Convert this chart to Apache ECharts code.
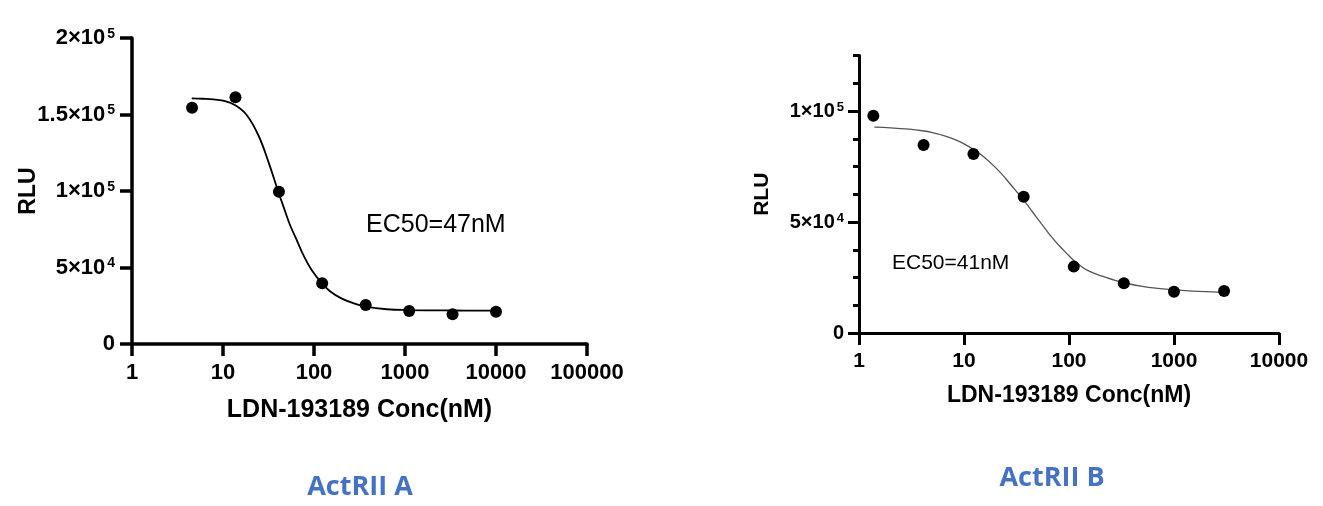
<!DOCTYPE html>
<html>
<head>
<meta charset="utf-8">
<script src="https://cdn.jsdelivr.net/npm/echarts@6/dist/echarts.min.js"></script>
<style>
html,body{margin:0;padding:0;background:#fff;}
#chart{width:1323px;height:506px;}
</style>
</head>
<body>
<div id="chart"></div>
<script>
// ---- data ----
var concA = [4.57, 13.7, 41.2, 123, 370, 1111, 3333, 10000];
var rluA  = [154400, 161200, 99500, 39700, 25500, 21600, 19400, 21100];
var fitA_x = [4.53, 6, 7.83, 10, 13.5, 18.2, 24.4, 31.5, 40.5, 47, 54.5, 65, 76.3, 95, 121, 150, 200, 280, 370, 630, 1107, 3311, 10000];
var fitA_y = [160600, 160300, 159900, 159000, 156200, 149700, 136600, 119200, 99500, 88500, 77800, 67600, 58200, 48000, 40000, 34500, 29800, 26400, 24400, 22700, 22200, 21900, 21800];

var concB = [1.37, 4.12, 12.3, 37, 111, 333, 1000, 3000];
var rluB  = [97900, 84700, 80600, 61400, 29900, 22400, 18600, 18900];
var fitB_x = [1.4, 2, 3, 4, 5, 6, 8, 10, 12.5, 15, 20, 25, 30, 37.5, 45, 55, 66, 80, 100, 112, 125, 150, 200, 300, 500, 700, 1000, 1500, 2000, 3000];
var fitB_y = [92700, 92400, 91800, 91100, 90300, 89300, 87300, 85200, 82500, 79800, 74500, 69500, 65000, 59500, 54500, 49000, 44100, 39500, 34800, 32500, 30700, 28200, 25800, 23200, 21000, 20100, 19500, 18900, 18600, 18300];

var ticksYA = [0, 50000, 100000, 150000, 200000];
var labelsYA = ['0', '5×10|4', '1×10|5', '1.5×10|5', '2×10|5'];
var ticksYB = [0, 50000, 100000];
var labelsYB = ['0', '5×10|4', '1×10|5'];

var titleA = 'ActRII A', titleB = 'ActRII B';
var ec50A = 'EC50=47nM', ec50B = 'EC50=41nM';
var xName = 'LDN-193189 Conc(nM)', yName = 'RLU';

// ---- helpers ----
function pairs(xs, ys){ return xs.map(function(x,i){ return [x, ys[i]]; }); }
function supLabel(ticks, labels){
  return function(v){
    var i = ticks.indexOf(Math.round(v));
    if (i < 0) return '';
    var p = labels[i].split('|');
    if (p.length === 1) return '{a|' + p[0] + '}';
    return '{a|' + p[0] + '}{s|' + p[1] + '}';
  };
}
function logLabel(v){ return String(Math.round(v)); }
var FF = '"Liberation Sans", Arial, sans-serif';
function rich(sz, ssz){
  return {
    a: {fontSize: sz, fontWeight: 'bold', fontFamily: FF, color: '#000'},
    s: {fontSize: ssz, fontWeight: 'bold', fontFamily: FF, color: '#000', verticalAlign: 'top', padding: [0,0,0,2]}
  };
}

var chart = echarts.init(document.getElementById('chart'));
var option = {
  animation: false,
  backgroundColor: '#fff',
  grid: [
    {left: 132, top: 38, width: 455, height: 306, containLabel: false, outerBoundsMode: 'none'},
    {left: 859, top: 55.5, width: 420, height: 277.5, containLabel: false, outerBoundsMode: 'none'}
  ],
  xAxis: [
    {type: 'log', logBase: 10, min: 1, max: 100000, gridIndex: 0,
     name: xName, nameLocation: 'middle', nameGap: 54, nameMoveOverlap: false,
     nameTextStyle: {fontSize: 25, fontWeight: 'bold', fontFamily: FF, color: '#000'},
     axisLine: {lineStyle: {color: '#000', width: 3.5}},
     axisTick: {length: 12, lineStyle: {color: '#000', width: 3.5}},
     axisLabel: {formatter: logLabel, margin: 18, fontSize: 22, fontWeight: 'bold', fontFamily: FF, color: '#000'},
     splitLine: {show: false}, minorTick: {show: false}},
    {type: 'log', logBase: 10, min: 1, max: 10000, gridIndex: 1,
     name: xName, nameLocation: 'middle', nameGap: 51, nameMoveOverlap: false,
     nameTextStyle: {fontSize: 23, fontWeight: 'bold', fontFamily: FF, color: '#000'},
     axisLine: {lineStyle: {color: '#000', width: 3}},
     axisTick: {length: 12, lineStyle: {color: '#000', width: 3}},
     axisLabel: {formatter: logLabel, margin: 18, fontSize: 21, fontWeight: 'bold', fontFamily: FF, color: '#000'},
     splitLine: {show: false}, minorTick: {show: false}}
  ],
  yAxis: [
    {type: 'value', min: 0, max: 200000, interval: 50000, gridIndex: 0,
     name: yName, nameLocation: 'middle', nameGap: 92, nameRotate: 90, nameMoveOverlap: false,
     nameTextStyle: {fontSize: 23, fontWeight: 'bold', fontFamily: FF, color: '#000'},
     axisLine: {show: true, lineStyle: {color: '#000', width: 3.5}},
     axisTick: {show: true, length: 12, lineStyle: {color: '#000', width: 3.5}},
     axisLabel: {formatter: supLabel(ticksYA, labelsYA), margin: 17, rich: rich(22, 14)},
     splitLine: {show: false}},
    {type: 'value', min: 0, max: 125000, gridIndex: 1,
     name: yName, nameLocation: 'middle', nameGap: 86, nameRotate: 90, nameMoveOverlap: false,
     nameTextStyle: {fontSize: 21, fontWeight: 'bold', fontFamily: FF, color: '#000'},
     axisLine: {show: true, lineStyle: {color: '#000', width: 3}},
     axisTick: {show: true, length: 11, customValues: ticksYB, lineStyle: {color: '#000', width: 3}},
     axisLabel: {customValues: ticksYB, formatter: supLabel(ticksYB, labelsYB), margin: 15, rich: rich(20, 13)},
     splitLine: {show: false}},
    {type: 'value', min: 0, max: 125000, interval: 12500, gridIndex: 1, position: 'left',
     axisLine: {show: false},
     axisTick: {show: true, length: 6, lineStyle: {color: '#000', width: 3}},
     axisLabel: {show: false},
     splitLine: {show: false}}
  ],
  series: [
    {type: 'line', xAxisIndex: 0, yAxisIndex: 0, data: pairs(fitA_x, fitA_y), smooth: 0.4,
     showSymbol: false, lineStyle: {color: '#000', width: 1.8}, silent: true, z: 2},
    {type: 'scatter', xAxisIndex: 0, yAxisIndex: 0, data: pairs(concA, rluA),
     symbol: 'circle', symbolSize: 12, itemStyle: {color: '#000', opacity: 1}, z: 3},
    {type: 'line', xAxisIndex: 1, yAxisIndex: 1, data: pairs(fitB_x, fitB_y), smooth: 0.4,
     showSymbol: false, lineStyle: {color: '#555', width: 1.3}, silent: true, z: 2},
    {type: 'scatter', xAxisIndex: 1, yAxisIndex: 1, data: pairs(concB, rluB),
     symbol: 'circle', symbolSize: 12, itemStyle: {color: '#000', opacity: 1}, z: 3}
  ],
  graphic: [
    {type: 'text', left: 366, top: 213, style: {text: ec50A, font: '25px ' + FF, fill: '#000'}},
    {type: 'text', left: 892, top: 253, style: {text: ec50B, font: '21px ' + FF, fill: '#000'}},
    {type: 'text', x: 360, y: 487, style: {text: titleA, font: 'bold 27px "Open Sans", sans-serif', fill: '#4472C4', textAlign: 'center', textVerticalAlign: 'middle'}},
    {type: 'text', x: 1052, y: 478, style: {text: titleB, font: 'bold 27px "Open Sans", sans-serif', fill: '#4472C4', textAlign: 'center', textVerticalAlign: 'middle'}}
  ]
};
chart.setOption(option);
</script>
</body>
</html>
